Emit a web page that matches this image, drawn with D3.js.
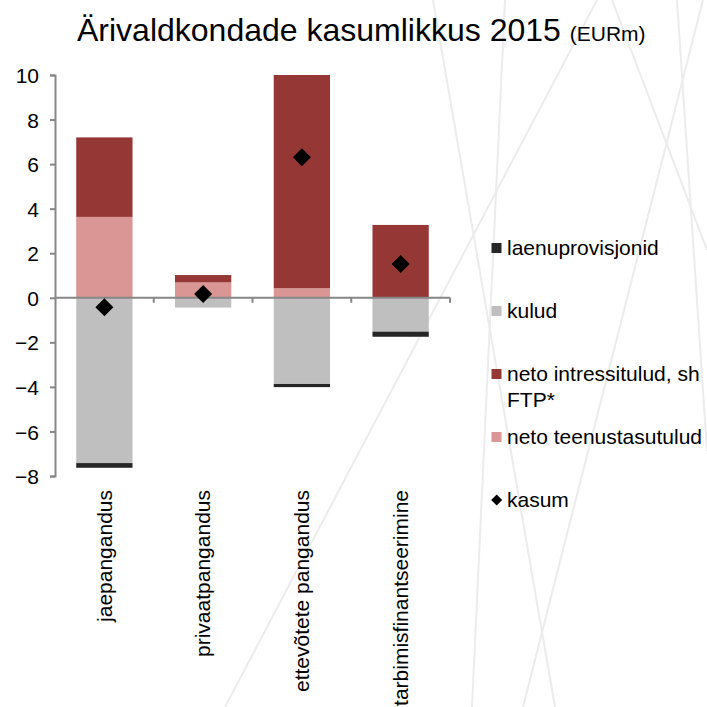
<!DOCTYPE html>
<html>
<head>
<meta charset="utf-8">
<script src="https://cdn.jsdelivr.net/npm/d3@7"></script>
<style>
  body { margin: 0; background: #fff; }
  svg text { font-family: "Liberation Sans", Arial, sans-serif; fill: #000; }
</style>
</head>
<body>
<svg id="chart" width="707" height="707"></svg>
<script>
// categories and series (EURm)
const categories = ['jaepangandus', 'privaatpangandus', 'ettevõtete pangandus', 'tarbimisfinantseerimine'];
const teenus   = [3.63, 0.69, 0.43, 0.0];   // neto teenustasutulud
const intress  = [3.57, 0.33, 9.57, 3.27];  // neto intressitulud, sh FTP*
const kulud    = [-7.42, -0.44, -3.87, -1.52];
const laenu    = [-0.21, 0.0, -0.14, -0.23]; // laenuprovisjonid
const kasum    = [-0.43, 0.17, 6.31, 1.52];
const yTicks   = [-8, -6, -4, -2, 0, 2, 4, 6, 8, 10];

const colors = {
    laenu: '#262626',
    kulud: '#bfbfbf',
    intress: '#953735',
    teenus: '#d99694'
};

// faint decorative background strokes (page decoration, not data)
const decor = [
    [[597, 0], [225, 707]],
    [[433, 0], [555, 707]],
    [[703, 0], [523, 707]],
    [[677, 0], [707, 451]],
    [[505, 0], [472, 707]],
    [[612, 0], [707, 250]]
];

let svg = d3.select('#chart');

svg.append('g')
    .attr('class', 'decor')
    .selectAll('line')
    .data(decor)
    .enter().append('line')
        .attr('x1', d => d[0][0]).attr('y1', d => d[0][1])
        .attr('x2', d => d[1][0]).attr('y2', d => d[1][1])
        .style('stroke', '#ececec')
        .style('stroke-width', 2);

// scales
let x = d3.scaleBand()
    .domain(categories)
    .range([55, 450])
    .padding(0);
let y = d3.scaleLinear()
    .domain([-8, 10])
    .range([476, 75]);
let barW = x.bandwidth() * 0.57;

// build stacked segments: positives go up from zero, negatives go down
let segments = [];
categories.forEach(function(c, i) {
    segments.push({ cat: c, y0: 0, y1: teenus[i], color: colors.teenus });
    segments.push({ cat: c, y0: teenus[i], y1: teenus[i] + intress[i], color: colors.intress });
    segments.push({ cat: c, y0: 0, y1: kulud[i], color: colors.kulud });
    segments.push({ cat: c, y0: kulud[i], y1: kulud[i] + laenu[i], color: colors.laenu });
});

svg.append('g')
    .attr('class', 'bars')
    .selectAll('rect')
    .data(segments.filter(d => d.y0 !== d.y1))
    .enter().append('rect')
        .attr('x', d => x(d.cat) + (x.bandwidth() - barW) / 2)
        .attr('width', barW)
        .attr('y', d => y(Math.max(d.y0, d.y1)))
        .attr('height', d => Math.abs(y(d.y0) - y(d.y1)))
        .style('fill', d => d.color);

// y axis
let yAxis = svg.append('g')
    .attr('transform', 'translate(55,0)')
    .call(d3.axisLeft(y).tickValues(yTicks).tickSize(5).tickPadding(11));
yAxis.selectAll('text').style('font-size', '21px').attr('dy', '0.36em');

// x axis along zero, ticks at category boundaries
let xAxisG = svg.append('g').attr('class', 'xaxis');
xAxisG.append('line')
    .attr('x1', 55).attr('x2', 450)
    .attr('y1', y(0)).attr('y2', y(0));
xAxisG.selectAll('line.tick')
    .data(categories)
    .enter().append('line')
        .attr('class', 'tick')
        .attr('x1', d => x(d) + x.bandwidth()).attr('x2', d => x(d) + x.bandwidth())
        .attr('y1', y(0)).attr('y2', y(0) + 5);

svg.selectAll('.domain, .tick line, .xaxis line')
    .style('stroke', '#878787')
    .style('stroke-width', 2);

// rotated category labels under the plot
svg.append('g')
    .selectAll('text')
    .data(categories)
    .enter().append('text')
        .attr('transform', d => 'translate(' + (x(d) + x.bandwidth() / 2) + ',490) rotate(-90)')
        .attr('text-anchor', 'end')
        .attr('dy', '0.35em')
        .style('font-size', '21px')
        .text(d => d);

// kasum markers
let diamond = function(s) {
    return 'M0,' + (-s) + 'L' + s + ',0L0,' + s + 'L' + (-s) + ',0Z';
};
svg.append('g')
    .selectAll('path')
    .data(kasum)
    .enter().append('path')
        .attr('d', diamond(9))
        .attr('transform', (d, i) => 'translate(' + (x(categories[i]) + x.bandwidth() / 2) + ',' + y(d) + ')')
        .style('fill', '#000');

// title
let title = svg.append('text')
    .attr('x', 77)
    .attr('y', 41);
title.append('tspan').style('font-size', '32px').text('Ärivaldkondade kasumlikkus 2015 ');
title.append('tspan').style('font-size', '21px').text('(EURm)');

// legend
const legendItems = [
    { lines: ['laenuprovisjonid'], color: colors.laenu, y: 248 },
    { lines: ['kulud'], color: colors.kulud, y: 311 },
    { lines: ['neto intressitulud, sh', 'FTP*'], color: colors.intress, y: 374 },
    { lines: ['neto teenustasutulud'], color: colors.teenus, y: 437 },
    { lines: ['kasum'], color: '#000', y: 500, marker: true }
];
let legend = svg.append('g').attr('class', 'legend');
legendItems.forEach(function(it) {
    if (it.marker) {
        legend.append('path')
            .attr('d', diamond(5.5))
            .attr('transform', 'translate(496.7,' + it.y + ')')
            .style('fill', it.color);
    } else {
        legend.append('rect')
            .attr('x', 491.5).attr('y', it.y - 5)
            .attr('width', 10).attr('height', 10)
            .style('fill', it.color);
    }
    let t = legend.append('text')
        .attr('x', 507)
        .attr('y', it.y)
        .style('font-size', '21px');
    it.lines.forEach(function(l, k) {
        t.append('tspan').attr('x', 507).attr('dy', k === 0 ? '0.35em' : 26).text(l);
    });
});
</script>
</body>
</html>
